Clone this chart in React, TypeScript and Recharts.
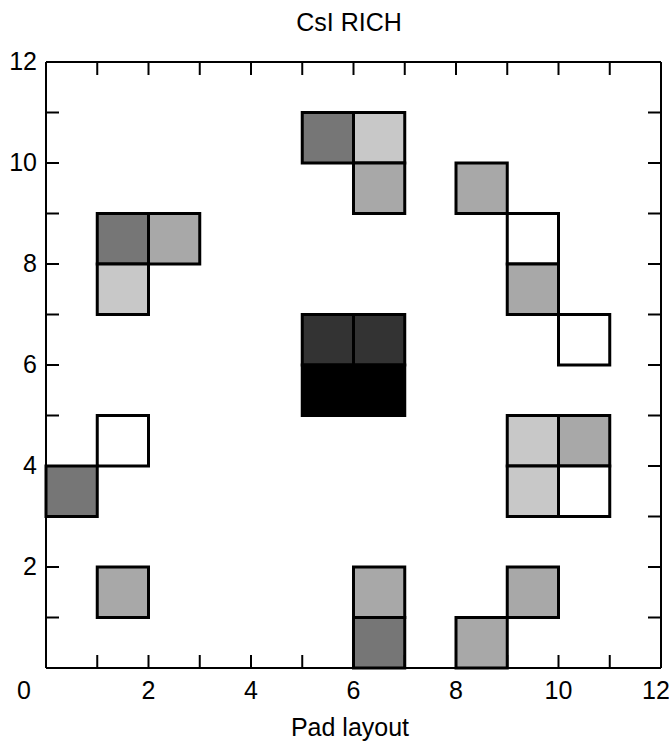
import {
  ScatterChart,
  Scatter,
  XAxis,
  YAxis,
  ReferenceArea,
} from 'recharts';

// pad coordinates (lower-left corner, in pad units) and shade level
const padX = [5, 6, 6, 1, 2, 1, 8, 9, 9, 10, 5, 6, 5, 6, 1, 0, 9, 10, 9, 10, 1, 6, 6, 8, 9];
const padY = [10, 10, 9, 8, 8, 7, 9, 8, 7, 6, 6, 6, 5, 5, 4, 3, 4, 4, 3, 3, 1, 1, 0, 0, 1];
const padLevel = [3, 1, 2, 3, 2, 1, 2, 0, 2, 0, 4, 4, 5, 5, 0, 3, 1, 2, 1, 0, 2, 2, 3, 2, 2];

const axisTicks = [0, 1, 2, 3, 4, 5, 6, 7, 8, 9, 10, 11, 12];
const innerTicks = [1, 2, 3, 4, 5, 6, 7, 8, 9, 10, 11];

const TITLE = 'CsI RICH';
const X_LABEL = 'Pad layout';

// gray levels: empty, light, medium, dark, very dark, black
const SHADES = ['#ffffff', '#c8c8c8', '#a8a8a8', '#767676', '#333333', '#000000'];

const FONT = '"Liberation Sans", Arial, sans-serif';
const FONT_SIZE = 25;
const TICK_LEN = 13;

const pads = padX.map((x, i) => ({ x, y: padY[i], level: padLevel[i] }));
const centers = pads.map((p) => ({ cx: p.x + 0.5, cy: p.y + 0.5 }));

// bottom axis: inward tick marks, labels on even values
const BottomTick = (props: any) => {
  const { x, y, payload } = props;
  const v = payload.value;
  const dx = v === 0 ? -22 : v === 12 ? -5 : 0;
  return (
    <g>
      {v > 0 && v < 12 && (
        <line x1={x} x2={x} y1={y} y2={y - TICK_LEN} stroke="#000" strokeWidth={2} />
      )}
      {v % 2 === 0 && (
        <text x={x + dx} y={y + 31} textAnchor="middle" fontSize={FONT_SIZE} fontFamily={FONT} fill="#000">
          {v}
        </text>
      )}
    </g>
  );
};

const TopTick = (props: any) => {
  const { x, y } = props;
  return <line x1={x} x2={x} y1={y} y2={y + TICK_LEN} stroke="#000" strokeWidth={2} />;
};

const LeftTick = (props: any) => {
  const { x, y, payload } = props;
  const v = payload.value;
  return (
    <g>
      {v > 0 && v < 12 && (
        <line x1={x} x2={x + TICK_LEN} y1={y} y2={y} stroke="#000" strokeWidth={2} />
      )}
      {v % 2 === 0 && v > 0 && (
        <text x={x - 9} y={y + 8} textAnchor="end" fontSize={FONT_SIZE} fontFamily={FONT} fill="#000">
          {v}
        </text>
      )}
    </g>
  );
};

const RightTick = (props: any) => {
  const { x, y } = props;
  return <line x1={x} x2={x - TICK_LEN} y1={y} y2={y} stroke="#000" strokeWidth={2} />;
};

export default function App() {
  const axisLine = { stroke: '#000', strokeWidth: 2 };
  return (
    <div style={{ position: 'absolute', left: 0, top: 0, width: 669, height: 747, background: '#fff' }}>
      <ScatterChart
        width={669}
        height={747}
        margin={{ top: 61, right: 7, bottom: 78, left: 45 }}
      >
        <XAxis
          xAxisId="b"
          type="number"
          dataKey="cx"
          domain={[0, 12]}
          ticks={axisTicks}
          orientation="bottom"
          height={1}
          tickSize={0}
          tickMargin={0}
          tickLine={false}
          axisLine={axisLine}
          tick={<BottomTick />}
          allowDataOverflow
        />
        <XAxis
          xAxisId="t"
          type="number"
          dataKey="cx"
          domain={[0, 12]}
          ticks={innerTicks}
          orientation="top"
          height={1}
          tickSize={0}
          tickMargin={0}
          tickLine={false}
          axisLine={axisLine}
          tick={<TopTick />}
          allowDataOverflow
        />
        <YAxis
          yAxisId="l"
          type="number"
          dataKey="cy"
          domain={[0, 12]}
          ticks={axisTicks}
          orientation="left"
          width={1}
          tickSize={0}
          tickMargin={0}
          tickLine={false}
          axisLine={axisLine}
          tick={<LeftTick />}
          allowDataOverflow
        />
        <YAxis
          yAxisId="r"
          type="number"
          dataKey="cy"
          domain={[0, 12]}
          ticks={innerTicks}
          orientation="right"
          width={1}
          tickSize={0}
          tickMargin={0}
          tickLine={false}
          axisLine={axisLine}
          tick={<RightTick />}
          allowDataOverflow
        />
        {pads.map((p, i) => (
          <ReferenceArea
            key={i}
            xAxisId="b"
            yAxisId="l"
            x1={p.x}
            x2={p.x + 1}
            y1={p.y}
            y2={p.y + 1}
            fill={SHADES[p.level]}
            fillOpacity={1}
            stroke="#000"
            strokeWidth={3}
          />
        ))}
        <Scatter
          xAxisId="b"
          yAxisId="l"
          data={centers}
          isAnimationActive={false}
          shape={() => <g />}
        />
        <text x={349} y={31} textAnchor="middle" fontSize={FONT_SIZE} fontFamily={FONT} fill="#000">
          {TITLE}
        </text>
        <text x={350} y={736} textAnchor="middle" fontSize={FONT_SIZE} fontFamily={FONT} fill="#000">
          {X_LABEL}
        </text>
      </ScatterChart>
    </div>
  );
}
